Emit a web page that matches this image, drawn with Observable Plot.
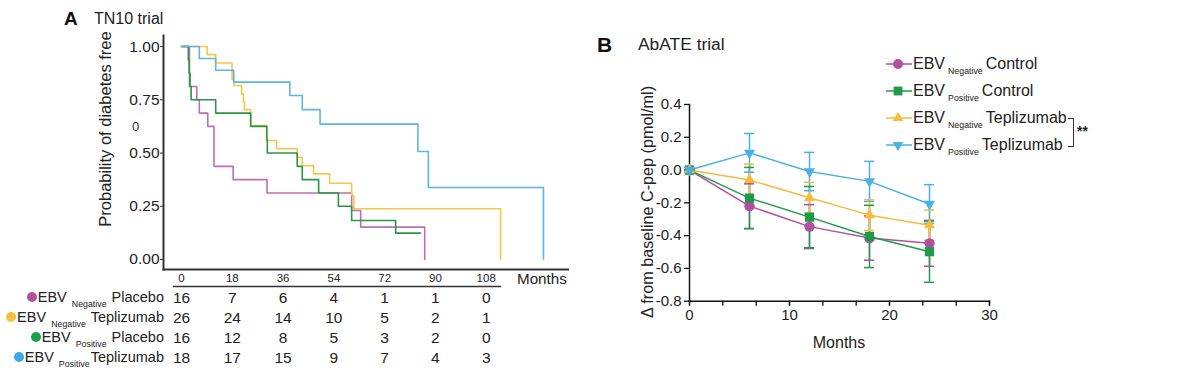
<!DOCTYPE html>
<html><head><meta charset="utf-8">
<script src="https://cdn.jsdelivr.net/npm/d3@7"></script>
<script src="https://cdn.jsdelivr.net/npm/@observablehq/plot@0.6"></script>
<style>
html,body{margin:0;padding:0;background:#fff;}
#root{position:relative;width:1200px;height:388px;overflow:hidden;font-family:"Liberation Sans",Arial,Helvetica,sans-serif;color:#111;}
.abs{position:absolute;white-space:nowrap;line-height:1;}
.plot{position:absolute;}
.dot{display:inline-block;width:10px;height:10px;border-radius:50%;margin-right:1px;vertical-align:0px;}
.sub{position:relative;top:5px;}
</style></head><body><div id="root"></div>
<script>
// ---------- Panel A: TN10 trial (Kaplan-Meier) ----------
const kmGroups = ["EBV Negative Placebo", "EBV Negative Teplizumab", "EBV Positive Placebo", "EBV Positive Teplizumab"];
const kmStatus = ["Negative", "Negative", "Positive", "Positive"];
const kmArm = ["Placebo", "Teplizumab", "Placebo", "Teplizumab"];
const kmColors = ["#bf6db4", "#f7c64a", "#2b9640", "#5db5e0"];
const kmDotColors = ["#b44f9f", "#f8c03c", "#18a04a", "#3aa8e5"];

const kmNegPlaceboTime = [0, 2.8, 5.4, 6.3, 9.3, 11.5, 18.3, 30.3, 60.3, 63.5, 86.2];
const kmNegPlaceboSurv = [1, 0.8125, 0.75, 0.6875, 0.625, 0.4375, 0.375, 0.3125, 0.23, 0.152, 0];
const kmNegTepTime = [0, 9.1, 12.1, 17.9, 18.5, 21.3, 21.9, 22.3, 24.5, 30.2, 33.7, 41, 42.8, 46.8, 52.5, 60.3, 61.1, 113.1];
const kmNegTepSurv = [1, 0.962, 0.923, 0.846, 0.817, 0.778, 0.739, 0.703, 0.629, 0.559, 0.52, 0.48, 0.441, 0.402, 0.358, 0.30, 0.238, 0];
const kmPosPlaceboTime = [0, 2.4, 2.7, 3.0, 3.4, 12.1, 24.5, 30.2, 30.4, 41, 42.8, 48.6, 55.6, 60.3, 75.9, 84.7];
const kmPosPlaceboSurv = [1, 0.9375, 0.875, 0.8125, 0.75, 0.6875, 0.625, 0.5625, 0.5, 0.4375, 0.375, 0.3125, 0.25, 0.183, 0.124, 0.124];
const kmPosTepTime = [0, 6.3, 12.1, 18.5, 38.4, 42.8, 49.1, 83.8, 87.5, 128.3];
const kmPosTepSurv = [1, 0.944, 0.889, 0.833, 0.77, 0.704, 0.636, 0.507, 0.338, 0];

const kmYTicks = [0, 0.25, 0.5, 0.75, 1];
const kmXDomain = [-6.4, 137];
const kmYDomain = [-0.047, 1.052];

// numbers at risk
const riskMonths = [0, 18, 36, 54, 72, 90, 108];
const riskNegPlacebo = [16, 7, 6, 4, 1, 1, 0];
const riskNegTep = [26, 24, 14, 10, 5, 2, 1];
const riskPosPlacebo = [16, 12, 8, 5, 3, 2, 0];
const riskPosTep = [18, 17, 15, 9, 7, 4, 3];

// ---------- Panel B: AbATE trial ----------
const bMonths = [0, 6, 12, 18, 24];
const bGroups = ["EBV Negative Control", "EBV Positive Control", "EBV Negative Teplizumab", "EBV Positive Teplizumab"];
const bStatus = ["Negative", "Positive", "Negative", "Positive"];
const bArm = ["Control", "Control", "Teplizumab", "Teplizumab"];
const bColors = ["#b0509e", "#1f9a4b", "#f5bb3f", "#4cb0e4"];
const bNegControl = [0, -0.22, -0.345, -0.415, -0.447];
const bNegControlErr = [0, 0.136, 0.134, 0.135, 0.14];
const bPosControl = [0, -0.171, -0.287, -0.405, -0.498];
const bPosControlErr = [0, 0.187, 0.187, 0.19, 0.187];
const bNegTep = [0, -0.06, -0.169, -0.275, -0.336];
const bNegTepErr = [0, 0.097, 0.094, 0.094, 0.092];
const bPosTep = [0, 0.105, -0.009, -0.069, -0.207];
const bPosTepErr = [0.016, 0.118, 0.117, 0.122, 0.118];
const bYTicks = [-0.8, -0.6, -0.4, -0.2, 0, 0.2, 0.4];
const bXLabelTicks = [0, 10, 20, 30];
const bXMinorTicks = d3.range(0, 10).map(i => i * 10 / 3);

const narrow = '"Liberation Sans Narrow","Arial Narrow","Liberation Sans",sans-serif';
const sans = '"Liberation Sans",Arial,Helvetica,sans-serif';
const root = document.getElementById("root");

function addDiv(html, css) {
  const d = document.createElement("div");
  d.className = "abs";
  d.innerHTML = html;
  Object.assign(d.style, css);
  root.appendChild(d);
  return d;
}
function placePlot(svg, left, top) {
  const wrap = document.createElement("div");
  wrap.className = "plot";
  wrap.style.left = left + "px";
  wrap.style.top = top + "px";
  wrap.appendChild(svg);
  root.appendChild(wrap);
}

// ----- KM data table -----
const kmSeries = [
  [kmNegPlaceboTime, kmNegPlaceboSurv],
  [kmNegTepTime, kmNegTepSurv],
  [kmPosPlaceboTime, kmPosPlaceboSurv],
  [kmPosTepTime, kmPosTepSurv]
];
const kmData = [];
kmSeries.forEach(([t, s], gi) => t.forEach((m, i) => kmData.push({group: kmGroups[gi], month: m, surv: s[i]})));

const plotA = Plot.plot({
  width: 600, height: 290,
  marginLeft: 163, marginRight: 32.5, marginTop: 35, marginBottom: 21,
  style: {background: "transparent", fontFamily: narrow, overflow: "visible"},
  x: {domain: kmXDomain, axis: null},
  y: {domain: kmYDomain},
  color: {domain: kmGroups, range: kmColors},
  marks: [
    Plot.axisY({ticks: kmYTicks, tickFormat: d => d.toFixed(2), tickSize: 3, tickPadding: 1, fontSize: 15.5, label: null, stroke: "#333", fill: "#222"}),
    Plot.frame({anchor: "left", stroke: "#333", strokeWidth: 2}),
    Plot.frame({anchor: "bottom", stroke: "#333", strokeWidth: 2}),
    Plot.line(kmData, {x: "month", y: "surv", z: "group", stroke: "group", curve: "step-after", strokeWidth: 1.6})
  ]
});
placePlot(plotA, 0, 0);

// ----- risk table -----
const riskCounts = [riskNegPlacebo, riskNegTep, riskPosPlacebo, riskPosTep];
const riskData = [];
kmGroups.forEach((g, gi) => riskMonths.forEach((m, i) => riskData.push({group: g, month: m, n: riskCounts[gi][i]})));
const tableTop = 262;
const plotT = Plot.plot({
  width: 600, height: 120,
  marginLeft: 173, marginRight: 100, marginTop: 24, marginBottom: 0,
  style: {background: "transparent", fontFamily: narrow, overflow: "visible"},
  x: {domain: kmXDomain, range: [163, 567.5]},
  y: {type: "point", domain: kmGroups, range: [36, 96], padding: 0, axis: null},
  marks: [
    Plot.axisX({anchor: "top", ticks: riskMonths, tickSize: 0, tickPadding: 5, fontSize: 11.5, label: null, fill: "#222"}),
    Plot.frame({anchor: "top", stroke: "#333", strokeWidth: 1.5}),
    Plot.text(riskData, {x: "month", y: "group", text: "n", fontSize: 15.5, fill: "#222"})
  ]
});
placePlot(plotT, 0, tableTop);
const ty = plotT.scale("y");
kmGroups.forEach((g, gi) => {
  const yc = tableTop + ty.apply(g);
  const sep = gi === 3 ? "" : " ";
  addDiv(`<span class="dot" style="background:${kmDotColors[gi]}"></span>EBV <span class="sub" style="font-size:8.8px;margin:0 1px">${kmStatus[gi]}</span>${sep}${kmArm[gi]}`,
    {right: (1200 - 164) + "px", top: (yc - 8) + "px", fontSize: "14.5px", color: "#222"});
});

// Panel A texts
addDiv("A", {left: "64px", top: "9px", fontSize: "19px", fontWeight: "bold", color: "#111"});
addDiv("TN10 trial", {left: "94px", top: "11px", fontSize: "16px", color: "#222"});
addDiv("Months", {left: "517px", top: "271px", fontSize: "15.2px", color: "#222"});
addDiv("0", {left: "132px", top: "120px", fontSize: "13px", fontFamily: narrow, color: "#333"});
addDiv("Probability of diabetes free", {left: "104.5px", top: "129px", fontSize: "16.5px", color: "#222",
  transform: "translate(-50%,-50%) rotate(-90deg)"});

// ----- Panel B -----
const bSeries = [[bNegControl, bNegControlErr], [bPosControl, bPosControlErr], [bNegTep, bNegTepErr], [bPosTep, bPosTepErr]];
const capHalf = 0.5;
const bData = [];
bSeries.forEach(([v, e], gi) => bMonths.forEach((m, i) => bData.push({
  group: bGroups[gi], month: m, value: v[i], lo: v[i] - e[i], hi: v[i] + e[i], c1: m - capHalf, c2: m + capHalf
})));
const bErrData = bData.filter(d => d.hi > d.lo);

function triangleSymbol(down) {
  return {
    draw(context, size) {
      const hw = Math.sqrt(size) * 0.6;
      const h = hw * Math.sqrt(3);
      const s = down ? -1 : 1;
      context.moveTo(0, -s * 2 * h / 3);
      context.lineTo(-hw, s * h / 3);
      context.lineTo(hw, s * h / 3);
      context.closePath();
    }
  };
}
const bSymbols = [d3.symbolCircle, d3.symbolSquare, triangleSymbol(false), triangleSymbol(true)];

const plotB = Plot.plot({
  width: 610, height: 388,
  marginLeft: 99, marginRight: 211, marginTop: 104, marginBottom: 87.3,
  style: {background: "transparent", fontFamily: sans, overflow: "visible"},
  x: {domain: [0, 30]},
  y: {domain: [-0.8, 0.4]},
  color: {domain: bGroups, range: bColors},
  symbol: {domain: bGroups, range: bSymbols},
  marks: [
    Plot.axisY({ticks: bYTicks, tickFormat: d => d.toFixed(1), tickSize: 5, tickPadding: 3, fontSize: 15, stroke: "#111", strokeWidth: 1.3, fill: "#222", label: null}),
    Plot.axisX({ticks: bXMinorTicks, tickFormat: () => "", tickSize: 5, stroke: "#111", strokeWidth: 1.3, label: null}),
    Plot.axisX({ticks: bXLabelTicks, tickFormat: d => String(d), tickSize: 5, tickPadding: 3, fontSize: 15, stroke: "#111", strokeWidth: 1.3, fill: "#222", label: null}),
    Plot.frame({anchor: "left", stroke: "#111", strokeWidth: 1.5}),
    Plot.frame({anchor: "bottom", stroke: "#111", strokeWidth: 1.5}),
    Plot.ruleX(bErrData, {x: "month", y1: "lo", y2: "hi", stroke: "group", strokeWidth: 1.5}),
    Plot.ruleY(bErrData, {y: "lo", x1: "c1", x2: "c2", stroke: "group", strokeWidth: 1.5}),
    Plot.ruleY(bErrData, {y: "hi", x1: "c1", x2: "c2", stroke: "group", strokeWidth: 1.5}),
    Plot.line(bData, {x: "month", y: "value", z: "group", stroke: "group", strokeWidth: 1.5}),
    Plot.dot(bData, {x: "month", y: "value", symbol: "group", fill: "group", stroke: "none", r: 5.2})
  ]
});
placePlot(plotB, 590, 0);

addDiv("B", {left: "597px", top: "34px", fontSize: "21px", fontWeight: "bold", color: "#111"});
addDiv("AbATE trial", {left: "638px", top: "36px", fontSize: "17.4px", color: "#222"});
addDiv("Months", {left: "839px", top: "334.5px", fontSize: "16px", color: "#222", transform: "translateX(-50%)"});
addDiv("Δ from baseline C-pep (pmol/ml)", {left: "647px", top: "202px", fontSize: "16.2px", color: "#222",
  transform: "translate(-50%,-50%) rotate(-90deg)"});

// legend B
const legendBaselines = [69.5, 96.5, 123.5, 150.5];
bGroups.forEach((g, gi) => {
  const cy = legendBaselines[gi] - 6;
  const sym = d3.symbol(bSymbols[gi], Math.PI * 5 * 5)();
  addDiv(`<svg width="28" height="14" style="display:block"><line x1="1" x2="27" y1="7" y2="7" stroke="${bColors[gi]}" stroke-width="1.5"/><path d="${sym}" transform="translate(13,7)" fill="${bColors[gi]}"/></svg>`,
    {left: "884.5px", top: (cy - 7) + "px"});
  addDiv(`EBV<span class="sub" style="font-size:8.8px;margin:0 3px">${bStatus[gi]}</span>${bArm[gi]}`,
    {left: "913px", top: (legendBaselines[gi] - 13.5) + "px", fontSize: "16px", color: "#222"});
});
addDiv("", {left: "1068px", top: "118px", width: "5px", height: "27px", borderTop: "1px solid #333", borderRight: "1px solid #333", borderBottom: "1px solid #333"});
addDiv("**", {left: "1077px", top: "124px", fontSize: "14px", fontWeight: "bold", color: "#222"});
</script></body></html>
